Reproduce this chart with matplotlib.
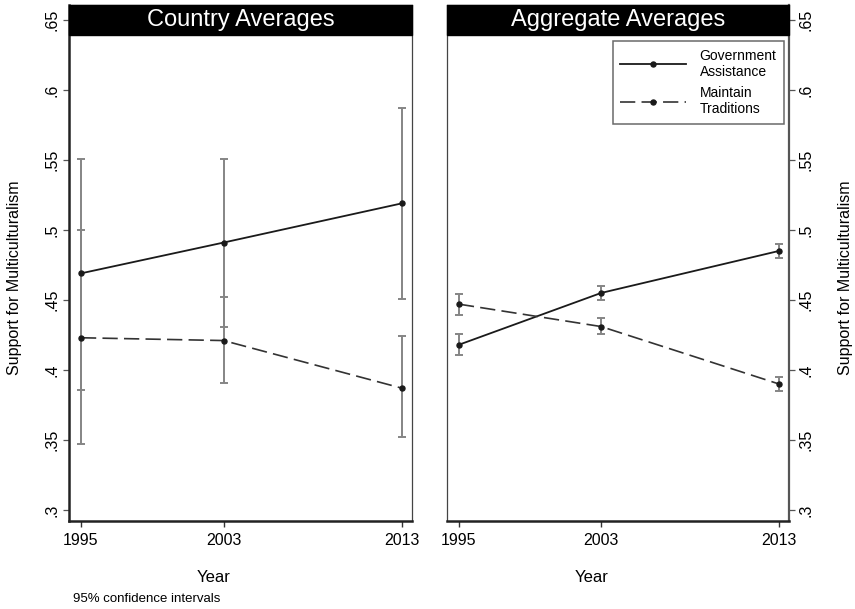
import matplotlib
matplotlib.use("Agg")
import matplotlib.pyplot as plt
from matplotlib.patches import Rectangle

plt.rcParams['font.family'] = ['Liberation Sans', 'DejaVu Sans']
plt.rcParams['lines.scale_dashes'] = False

# data
years = [1995, 2003, 2013]
yticks = [0.3, 0.35, 0.4, 0.45, 0.5, 0.55, 0.6, 0.65]
ytick_labels = ['.3', '.35', '.4', '.45', '.5', '.55', '.6', '.65']

country_gov = [0.469, 0.491, 0.519]
country_gov_lo = [0.386, 0.431, 0.451]
country_gov_hi = [0.551, 0.551, 0.587]
country_trad = [0.423, 0.421, 0.387]
country_trad_lo = [0.347, 0.391, 0.352]
country_trad_hi = [0.500, 0.452, 0.424]

agg_gov = [0.418, 0.455, 0.485]
agg_gov_lo = [0.411, 0.450, 0.480]
agg_gov_hi = [0.426, 0.460, 0.490]
agg_trad = [0.447, 0.431, 0.390]
agg_trad_lo = [0.439, 0.426, 0.385]
agg_trad_hi = [0.454, 0.437, 0.395]

W, H = 855, 609
fig = plt.figure(figsize=(W / 100, H / 100), dpi=100)

def px_axes(x0, x1, y0, y1):
    return fig.add_axes([x0 / W, (H - y1) / H, (x1 - x0) / W, (y1 - y0) / H])

ax1 = px_axes(69, 412, 5, 521)
ax2 = px_axes(447, 789, 5, 521)

def draw_panel(ax, gov, glo, ghi, trad, tlo, thi, title, capsize, side):
    gerr = [[g - l for g, l in zip(gov, glo)], [h - g for g, h in zip(gov, ghi)]]
    terr = [[t - l for t, l in zip(trad, tlo)], [h - t for t, h in zip(trad, thi)]]
    ax.errorbar(years, gov, yerr=gerr, fmt='none', ecolor='#858585', elinewidth=1.4,
                capsize=capsize, capthick=1.4, zorder=2)
    ax.errorbar(years, trad, yerr=terr, fmt='none', ecolor='#858585', elinewidth=1.4,
                capsize=capsize, capthick=1.4, zorder=2)
    l1, = ax.plot(years, gov, color='#1a1a1a', lw=1.3, marker='o', ms=3.6, zorder=3,
                  label='Government\nAssistance')
    l2, = ax.plot(years, trad, color='#333333', lw=1.2, marker='o', ms=3.6,
                  markerfacecolor='#1a1a1a', markeredgecolor='#1a1a1a',
                  dashes=(11, 4.5), zorder=3, label='Maintain\nTraditions')
    ax.set_xlim(1994.33, 2013.57)
    ax.set_ylim(0.2921, 0.6607)
    ax.set_xticks(years)
    ax.set_xticklabels([str(y) for y in years], fontsize=11.5)
    ax.set_yticks(yticks)
    ax.set_yticklabels(ytick_labels, fontsize=11.5, rotation=90, va='center')
    ax.tick_params(axis='x', length=4.5, width=1, color='#333333', pad=4)
    ax.tick_params(axis='y', length=4, width=0.9, color='#555555', pad=3)
    for s in ax.spines.values():
        s.set_linewidth(0.9)
        s.set_color('#444444')
    ax.spines['bottom'].set_linewidth(1.8)
    ax.spines['bottom'].set_color('#222222')
    if side == 'right':
        ax.yaxis.tick_right()
        ax.spines['right'].set_linewidth(1.6)
        ax.spines['right'].set_color('#555555')
    else:
        ax.spines['left'].set_linewidth(1.8)
        ax.spines['left'].set_color('#222222')
    # title strip
    ax.add_patch(Rectangle((0, 0.9419), 1, 0.0581, transform=ax.transAxes,
                           facecolor='black', edgecolor='black', clip_on=False, zorder=5))
    ax.text(0.5, 0.971, title, transform=ax.transAxes, color='white', fontsize=17,
            ha='center', va='center', zorder=6)
    return l1, l2

draw_panel(ax1, country_gov, country_gov_lo, country_gov_hi,
           country_trad, country_trad_lo, country_trad_hi,
           'Country Averages', 3.2, 'left')
h1, h2 = draw_panel(ax2, agg_gov, agg_gov_lo, agg_gov_hi,
                    agg_trad, agg_trad_lo, agg_trad_hi,
                    'Aggregate Averages', 2.9, 'right')

leg = ax2.legend(handles=[h1, h2], loc='upper right',
                 bbox_to_anchor=((784 - 447) / 342, (521 - 41) / 516),
                 fontsize=10, frameon=True, fancybox=False, handlelength=4.7,
                 handletextpad=1.0, labelspacing=0.5, borderpad=0.55,
                 borderaxespad=0)
leg.get_frame().set_edgecolor('#444444')
leg.get_frame().set_linewidth(1.1)

fig.text(214 / W, 1 - 577 / H, 'Year', fontsize=12, ha='center', va='center')
fig.text(592 / W, 1 - 577 / H, 'Year', fontsize=12, ha='center', va='center')
fig.text(15 / W, 1 - 278 / H, 'Support for Multiculturalism', fontsize=11.5,
         rotation=90, ha='center', va='center')
fig.text(845 / W, 1 - 278 / H, 'Support for Multiculturalism', fontsize=11.5,
         rotation=90, ha='center', va='center')
fig.text(73 / W, 1 - 599 / H, '95% confidence intervals', fontsize=9.5,
         ha='left', va='center')

fig.savefig('out.png', dpi=100, facecolor='white')
